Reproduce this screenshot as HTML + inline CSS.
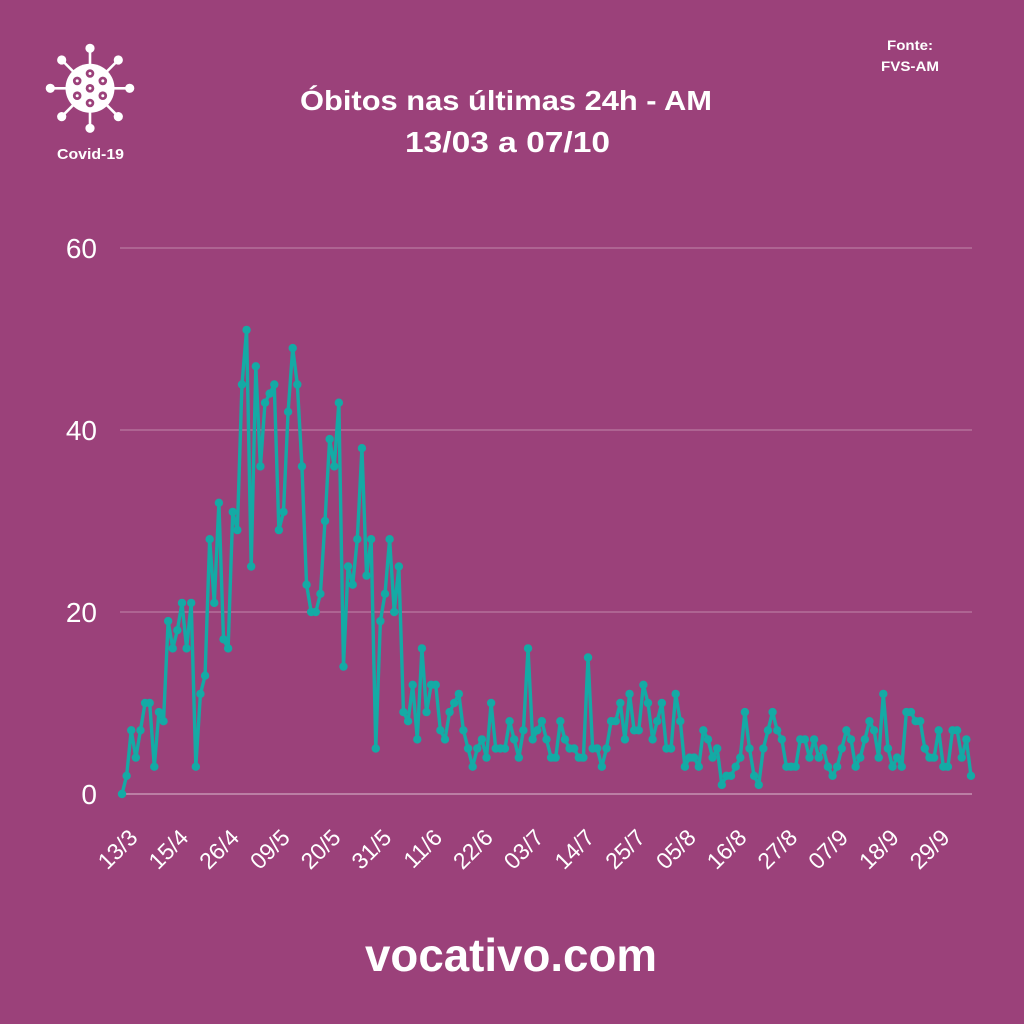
<!DOCTYPE html>
<html>
<head>
<meta charset="utf-8">
<style>
html,body{margin:0;padding:0;background:#9b417a;}
svg{display:block;}
text{font-family:"Liberation Sans",sans-serif;fill:#ffffff;}
</style>
</head>
<body>
<svg width="1024" height="1024" viewBox="0 0 1024 1024" xmlns="http://www.w3.org/2000/svg">
<rect x="0" y="0" width="1024" height="1024" fill="#9b417a"/>

<!-- icon -->
<g stroke="#ffffff" stroke-width="2.6" fill="#ffffff">
  <line x1="90" y1="88.3" x2="90" y2="48.3"/>
  <line x1="90" y1="88.3" x2="90" y2="128.3"/>
  <line x1="90" y1="88.3" x2="50.3" y2="88.3"/>
  <line x1="90" y1="88.3" x2="129.7" y2="88.3"/>
  <line x1="90" y1="88.3" x2="61.7" y2="60"/>
  <line x1="90" y1="88.3" x2="118.3" y2="60"/>
  <line x1="90" y1="88.3" x2="61.7" y2="116.6"/>
  <line x1="90" y1="88.3" x2="118.3" y2="116.6"/>
</g>
<g fill="#ffffff">
  <circle cx="90" cy="88.3" r="24.5"/>
  <circle cx="90" cy="48.3" r="4.6"/>
  <circle cx="90" cy="128.3" r="4.6"/>
  <circle cx="50.3" cy="88.3" r="4.6"/>
  <circle cx="129.7" cy="88.3" r="4.6"/>
  <circle cx="61.7" cy="60" r="4.6"/>
  <circle cx="118.3" cy="60" r="4.6"/>
  <circle cx="61.7" cy="116.6" r="4.6"/>
  <circle cx="118.3" cy="116.6" r="4.6"/>
</g>
<g fill="#9b417a">
  <circle cx="90" cy="88.3" r="4.3"/>
  <circle cx="90" cy="73.5" r="4.3"/>
  <circle cx="90" cy="103" r="4.3"/>
  <circle cx="102.8" cy="80.9" r="4.3"/>
  <circle cx="102.8" cy="95.7" r="4.3"/>
  <circle cx="77.2" cy="80.9" r="4.3"/>
  <circle cx="77.2" cy="95.7" r="4.3"/>
</g>
<g fill="#ffffff">
  <circle cx="90" cy="88.3" r="1.5"/>
  <circle cx="90" cy="73.5" r="1.5"/>
  <circle cx="90" cy="103" r="1.5"/>
  <circle cx="102.8" cy="80.9" r="1.5"/>
  <circle cx="102.8" cy="95.7" r="1.5"/>
  <circle cx="77.2" cy="80.9" r="1.5"/>
  <circle cx="77.2" cy="95.7" r="1.5"/>
</g>
<text x="57" y="159" font-size="15" font-weight="bold" textLength="67" lengthAdjust="spacingAndGlyphs">Covid-19</text>

<!-- source -->
<text x="887" y="50" font-size="14" font-weight="bold" textLength="46" lengthAdjust="spacingAndGlyphs">Fonte:</text>
<text x="881" y="71" font-size="14" font-weight="bold" textLength="58" lengthAdjust="spacingAndGlyphs">FVS-AM</text>

<!-- title -->
<text x="300" y="110" font-size="28" font-weight="bold" textLength="412" lengthAdjust="spacingAndGlyphs">Óbitos nas últimas 24h - AM</text>
<text x="405" y="152" font-size="29" font-weight="bold" textLength="205" lengthAdjust="spacingAndGlyphs">13/03 a 07/10</text>

<!-- grid -->
<g stroke="#ffffff" stroke-opacity="0.25" stroke-width="1.6">
  <line x1="120" y1="248" x2="972" y2="248"/>
  <line x1="120" y1="430" x2="972" y2="430"/>
  <line x1="120" y1="612" x2="972" y2="612"/>
  <line x1="120" y1="794" x2="972" y2="794" stroke-opacity="0.32" stroke-width="2"/>
</g>

<!-- y labels -->
<g font-size="28" text-anchor="end">
  <text x="97" y="258">60</text>
  <text x="97" y="440">40</text>
  <text x="97" y="622">20</text>
  <text x="97" y="804">0</text>
</g>

<!-- x labels -->
<g font-size="23" text-anchor="end">
  <text x="139" y="839" transform="rotate(-45 139 839)">13/3</text>
  <text x="189.75" y="839" transform="rotate(-45 189.75 839)">15/4</text>
  <text x="240.5" y="839" transform="rotate(-45 240.5 839)">26/4</text>
  <text x="291.25" y="839" transform="rotate(-45 291.25 839)">09/5</text>
  <text x="342" y="839" transform="rotate(-45 342 839)">20/5</text>
  <text x="392.75" y="839" transform="rotate(-45 392.75 839)">31/5</text>
  <text x="443.5" y="839" transform="rotate(-45 443.5 839)">11/6</text>
  <text x="494.25" y="839" transform="rotate(-45 494.25 839)">22/6</text>
  <text x="545" y="839" transform="rotate(-45 545 839)">03/7</text>
  <text x="595.75" y="839" transform="rotate(-45 595.75 839)">14/7</text>
  <text x="646.5" y="839" transform="rotate(-45 646.5 839)">25/7</text>
  <text x="697.25" y="839" transform="rotate(-45 697.25 839)">05/8</text>
  <text x="748" y="839" transform="rotate(-45 748 839)">16/8</text>
  <text x="798.75" y="839" transform="rotate(-45 798.75 839)">27/8</text>
  <text x="849.5" y="839" transform="rotate(-45 849.5 839)">07/9</text>
  <text x="900.25" y="839" transform="rotate(-45 900.25 839)">18/9</text>
  <text x="951" y="839" transform="rotate(-45 951 839)">29/9</text>
</g>

<!-- series -->
<g transform="translate(122,794) scale(4.614,-9.1)">
<polyline fill="none" stroke="#14aaa5" stroke-width="3.4" stroke-linejoin="round" vector-effect="non-scaling-stroke" points="0,0 1,2 2,7 3,4 4,7 5,10 6,10 7,3 8,9 9,8 10,19 11,16 12,18 13,21 14,16 15,21 16,3 17,11 18,13 19,28 20,21 21,32 22,17 23,16 24,31 25,29 26,45 27,51 28,25 29,47 30,36 31,43 32,44 33,45 34,29 35,31 36,42 37,49 38,45 39,36 40,23 41,20 42,20 43,22 44,30 45,39 46,36 47,43 48,14 49,25 50,23 51,28 52,38 53,24 54,28 55,5 56,19 57,22 58,28 59,20 60,25 61,9 62,8 63,12 64,6 65,16 66,9 67,12 68,12 69,7 70,6 71,9 72,10 73,11 74,7 75,5 76,3 77,5 78,6 79,4 80,10 81,5 82,5 83,5 84,8 85,6 86,4 87,7 88,16 89,6 90,7 91,8 92,6 93,4 94,4 95,8 96,6 97,5 98,5 99,4 100,4 101,15 102,5 103,5 104,3 105,5 106,8 107,8 108,10 109,6 110,11 111,7 112,7 113,12 114,10 115,6 116,8 117,10 118,5 119,5 120,11 121,8 122,3 123,4 124,4 125,3 126,7 127,6 128,4 129,5 130,1 131,2 132,2 133,3 134,4 135,9 136,5 137,2 138,1 139,5 140,7 141,9 142,7 143,6 144,3 145,3 146,3 147,6 148,6 149,4 150,6 151,4 152,5 153,3 154,2 155,3 156,5 157,7 158,6 159,3 160,4 161,6 162,8 163,7 164,4 165,11 166,5 167,3 168,4 169,3 170,9 171,9 172,8 173,8 174,5 175,4 176,4 177,7 178,3 179,3 180,7 181,7 182,4 183,6 184,2"/>
<path fill="none" stroke="#14aaa5" stroke-width="8.4" stroke-linecap="round" vector-effect="non-scaling-stroke" d="M0,0h0.001M1,2h0.001M2,7h0.001M3,4h0.001M4,7h0.001M5,10h0.001M6,10h0.001M7,3h0.001M8,9h0.001M9,8h0.001M10,19h0.001M11,16h0.001M12,18h0.001M13,21h0.001M14,16h0.001M15,21h0.001M16,3h0.001M17,11h0.001M18,13h0.001M19,28h0.001M20,21h0.001M21,32h0.001M22,17h0.001M23,16h0.001M24,31h0.001M25,29h0.001M26,45h0.001M27,51h0.001M28,25h0.001M29,47h0.001M30,36h0.001M31,43h0.001M32,44h0.001M33,45h0.001M34,29h0.001M35,31h0.001M36,42h0.001M37,49h0.001M38,45h0.001M39,36h0.001M40,23h0.001M41,20h0.001M42,20h0.001M43,22h0.001M44,30h0.001M45,39h0.001M46,36h0.001M47,43h0.001M48,14h0.001M49,25h0.001M50,23h0.001M51,28h0.001M52,38h0.001M53,24h0.001M54,28h0.001M55,5h0.001M56,19h0.001M57,22h0.001M58,28h0.001M59,20h0.001M60,25h0.001M61,9h0.001M62,8h0.001M63,12h0.001M64,6h0.001M65,16h0.001M66,9h0.001M67,12h0.001M68,12h0.001M69,7h0.001M70,6h0.001M71,9h0.001M72,10h0.001M73,11h0.001M74,7h0.001M75,5h0.001M76,3h0.001M77,5h0.001M78,6h0.001M79,4h0.001M80,10h0.001M81,5h0.001M82,5h0.001M83,5h0.001M84,8h0.001M85,6h0.001M86,4h0.001M87,7h0.001M88,16h0.001M89,6h0.001M90,7h0.001M91,8h0.001M92,6h0.001M93,4h0.001M94,4h0.001M95,8h0.001M96,6h0.001M97,5h0.001M98,5h0.001M99,4h0.001M100,4h0.001M101,15h0.001M102,5h0.001M103,5h0.001M104,3h0.001M105,5h0.001M106,8h0.001M107,8h0.001M108,10h0.001M109,6h0.001M110,11h0.001M111,7h0.001M112,7h0.001M113,12h0.001M114,10h0.001M115,6h0.001M116,8h0.001M117,10h0.001M118,5h0.001M119,5h0.001M120,11h0.001M121,8h0.001M122,3h0.001M123,4h0.001M124,4h0.001M125,3h0.001M126,7h0.001M127,6h0.001M128,4h0.001M129,5h0.001M130,1h0.001M131,2h0.001M132,2h0.001M133,3h0.001M134,4h0.001M135,9h0.001M136,5h0.001M137,2h0.001M138,1h0.001M139,5h0.001M140,7h0.001M141,9h0.001M142,7h0.001M143,6h0.001M144,3h0.001M145,3h0.001M146,3h0.001M147,6h0.001M148,6h0.001M149,4h0.001M150,6h0.001M151,4h0.001M152,5h0.001M153,3h0.001M154,2h0.001M155,3h0.001M156,5h0.001M157,7h0.001M158,6h0.001M159,3h0.001M160,4h0.001M161,6h0.001M162,8h0.001M163,7h0.001M164,4h0.001M165,11h0.001M166,5h0.001M167,3h0.001M168,4h0.001M169,3h0.001M170,9h0.001M171,9h0.001M172,8h0.001M173,8h0.001M174,5h0.001M175,4h0.001M176,4h0.001M177,7h0.001M178,3h0.001M179,3h0.001M180,7h0.001M181,7h0.001M182,4h0.001M183,6h0.001M184,2h0.001"/>
</g>

<!-- footer -->
<text x="365" y="971" font-size="46" font-weight="bold" textLength="292" lengthAdjust="spacingAndGlyphs">vocativo.com</text>
</svg>
</body>
</html>
